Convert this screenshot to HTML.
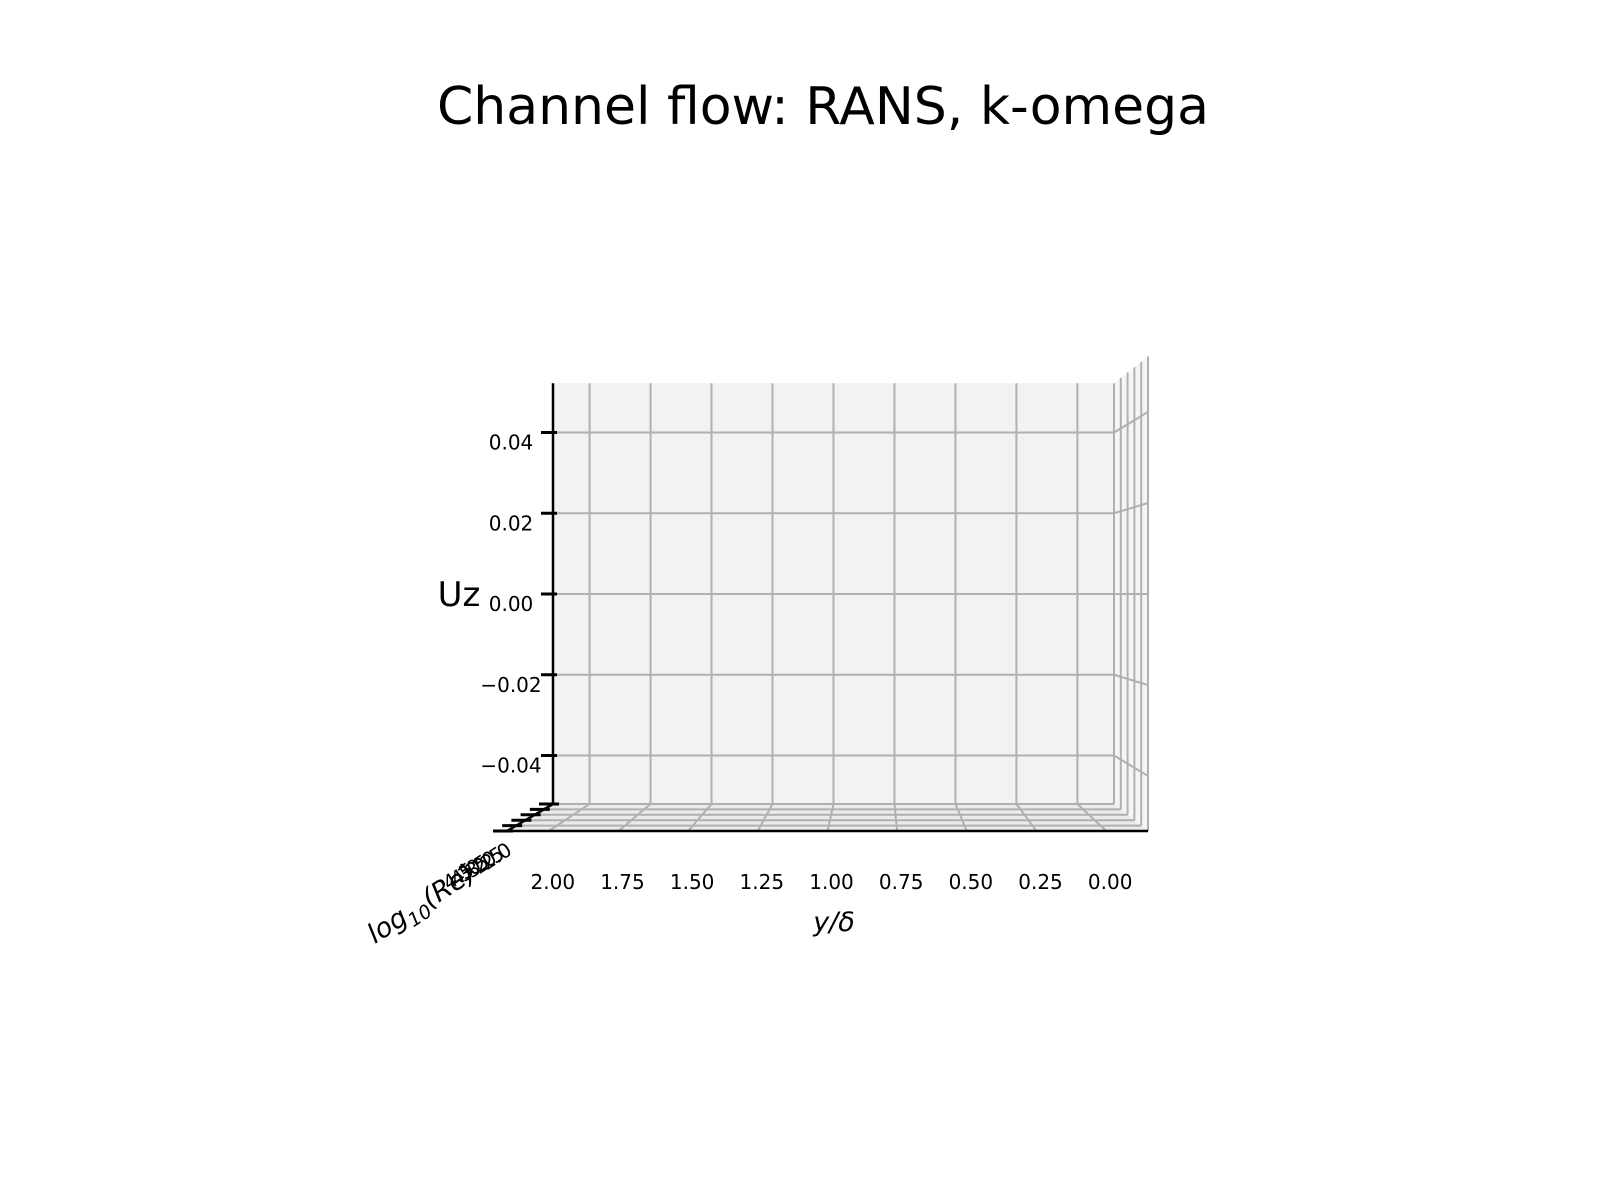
<!DOCTYPE html>
<html><head><meta charset="utf-8"><style>
html,body{margin:0;padding:0;background:#fff;}
svg{display:block;font-family:"DejaVu Sans","Liberation Sans",sans-serif;}
</style></head><body>
<svg id="chart" width="1600" height="1200" viewBox="0 0 1600 1200" xmlns="http://www.w3.org/2000/svg">
<text x="823" y="124" font-size="52" text-anchor="middle">Channel flow: RANS, k-omega</text>
<g id="panes"></g>
<g id="grid"></g>
<g id="axes"></g>
<g id="labels"></g>
<text x="459" y="606" font-size="34" text-anchor="middle">Uz</text>
<text x="834" y="931" font-size="27" font-style="italic" text-anchor="middle">y/δ</text>
<text transform="translate(426,911) rotate(-33)" font-size="27" font-style="italic" text-anchor="middle">log<tspan font-size="19" dy="7">10</tspan><tspan dy="-7">(Re)</tspan></text>
</svg>
<script>
const xTicks = [2.00, 1.75, 1.50, 1.25, 1.00, 0.75, 0.50, 0.25, 0.00];
const xTickLabels = ["2.00","1.75","1.50","1.25","1.00","0.75","0.50","0.25","0.00"];
const zTicks = [0.04, 0.02, 0.00, -0.02, -0.04];
const zTickLabels = ["0.04","0.02","0.00","\u22120.02","\u22120.04"];
const yTicks = [2.0, 2.5, 3.0, 3.5, 4.0, 4.5];
const yTickLabels = ["2.0","2.5","3.0","3.5","4.0","4.5"];

const NS = "http://www.w3.org/2000/svg";
const xMin = -0.15, xMax = 2.15, zMin = -0.0522, zMax = 0.0522, yMin = 2.0, yMax = 4.5;
function tOf(r){ return (r - yMin) / (yMax - yMin); }
function planeLeft(t){ return 553 - 46 * t; }
function planeRight(t){ return 1114 + 34 * t; }
function floorY(t){ return 804 + 27 * t; }
function xPix(x, t){ const f = (xMax - x) / (xMax - xMin); return planeLeft(t) + f * (planeRight(t) - planeLeft(t)); }
function zBack(z){ return 594 - z * 4037.5; }
function zOuter(z){ return 594 - z * 4550; }
function line(g, x1, y1, x2, y2, stroke, w, name){
  const l = document.createElementNS(NS, "line");
  l.setAttribute("x1", x1); l.setAttribute("y1", y1); l.setAttribute("x2", x2); l.setAttribute("y2", y2);
  l.setAttribute("stroke", stroke); l.setAttribute("stroke-width", w);
  
  
  g.appendChild(l); return l;
}
function text(g, x, y, s, size, anchor, name){
  const t = document.createElementNS(NS, "text");
  t.setAttribute("x", x); t.setAttribute("y", y); t.setAttribute("font-size", size); t.setAttribute("text-anchor", anchor);
  t.textContent = s;
  
  
  g.appendChild(t); return t;
}
const panes = document.getElementById("panes"), grid = document.getElementById("grid"), axes = document.getElementById("axes"), labels = document.getElementById("labels");
const GC = "#b0b0b0";
function poly(g, pts, fill, name){
  const p = document.createElementNS(NS, "polygon");
  p.setAttribute("points", pts.map(q => q.join(",")).join(" "));
  p.setAttribute("fill", fill);
  
  
  g.appendChild(p);
}
poly(panes, [[planeLeft(0), zBack(zMax)], [planeRight(0), zBack(zMax)], [planeRight(0), floorY(0)], [planeLeft(0), floorY(0)]], "#f2f2f2", "back-pane");
poly(panes, [[planeRight(0), zBack(zMax)], [planeRight(1), zOuter(zMax)], [planeRight(1), floorY(1)], [planeRight(0), floorY(0)]], "#f5f5f5", "side-pane");
poly(panes, [[planeLeft(0), floorY(0)], [planeRight(0), floorY(0)], [planeRight(1), floorY(1)], [planeLeft(1), floorY(1)]], "#ebebeb", "floor-pane");
xTicks.forEach(x => { line(grid, xPix(x, 0), zBack(zMax), xPix(x, 0), floorY(0), GC, 2, "back-x-gridline"); });
zTicks.forEach(z => {
  line(grid, planeLeft(0), zBack(z), planeRight(0), zBack(z), GC, 2, "back-z-gridline");
  line(grid, planeRight(0), zBack(z), planeRight(1), zOuter(z), GC, 2, "side-z-gridline");
});
yTicks.forEach(r => {
  const t = tOf(r);
  line(grid, planeLeft(t), floorY(t), planeRight(t), floorY(t), GC, 2, "floor-y-gridline");
  const xr = planeRight(t);
  const ztop = zBack(zMax) + (zOuter(zMax) - zBack(zMax)) * t;
  line(grid, xr, ztop, xr, floorY(t), GC, 2, "side-y-gridline");
});
xTicks.forEach(x => { line(grid, xPix(x, 0), floorY(0), xPix(x, 1), floorY(1), GC, 2, "floor-x-gridline"); });
line(axes, planeLeft(0), zBack(zMax), planeLeft(0), floorY(0), "#000", 2.5, "z-axis-line");
line(axes, planeLeft(0), floorY(0), planeLeft(1), floorY(1), "#000", 2.5, "y-axis-line");
line(axes, planeLeft(1), floorY(1), planeRight(1), floorY(1), "#000", 2.5, "x-axis-line");
zTicks.forEach((z, i) => {
  line(axes, planeLeft(0) - 12, zBack(z), planeLeft(0) + 4, zBack(z), "#000", 3, "z-tick");
  text(labels, 511, zBack(z) + 17, zTickLabels[i], 20, "middle", "z-tick-label");
});
yTicks.forEach((r, i) => {
  const t = tOf(r);
  line(axes, planeLeft(t) - 14, floorY(t), planeLeft(t) + 6, floorY(t), "#000", 3, "y-tick");
  const lt = text(labels, 0, 0, yTickLabels[i], 20, "middle", "y-tick-label");
  lt.setAttribute("transform", "translate(" + (500 - 38 * t) + "," + (862 + 20 * t) + ") rotate(-33)");
});
xTicks.forEach((x, i) => {
  text(labels, xPix(x, 1) + 4, 889, xTickLabels[i], 20, "middle", "x-tick-label");
});
</script>
</body></html>
